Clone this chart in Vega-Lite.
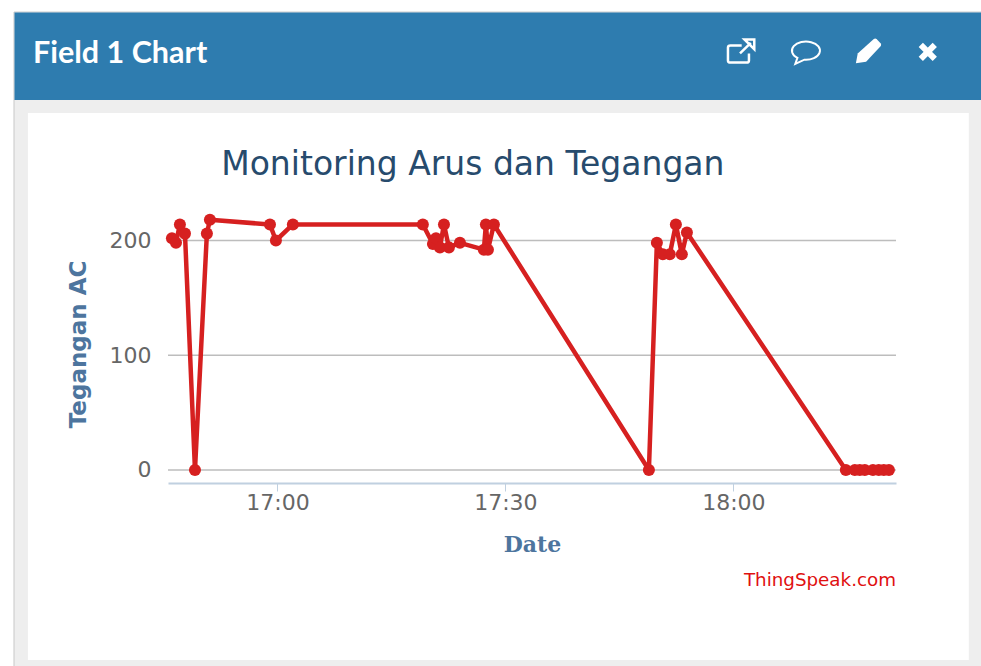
{
"$schema":"https://vega.github.io/schema/vega-lite/v6.json",
"width":728,"height":270,
"autosize":{"type":"none"},
"padding":{"left":168,"top":213,"right":85,"bottom":183},
"background":"#ffffff",
"view":{"stroke":null},
"data":{"values":[
{"t":"2024-01-01T16:46:07Z","v":202},{"t":"2024-01-01T16:46:39Z","v":198},{"t":"2024-01-01T16:47:10Z","v":214},{"t":"2024-01-01T16:47:50Z","v":206},{"t":"2024-01-01T16:49:09Z","v":0},{"t":"2024-01-01T16:50:43Z","v":206},{"t":"2024-01-01T16:51:07Z","v":218},{"t":"2024-01-01T16:59:01Z","v":214},{"t":"2024-01-01T16:59:48Z","v":200},{"t":"2024-01-01T17:02:02Z","v":214},{"t":"2024-01-01T17:19:08Z","v":214},{"t":"2024-01-01T17:20:28Z","v":197},{"t":"2024-01-01T17:20:52Z","v":202},{"t":"2024-01-01T17:21:23Z","v":194},{"t":"2024-01-01T17:21:55Z","v":214},{"t":"2024-01-01T17:22:34Z","v":194},{"t":"2024-01-01T17:24:01Z","v":198},{"t":"2024-01-01T17:27:10Z","v":192},{"t":"2024-01-01T17:27:26Z","v":214},{"t":"2024-01-01T17:27:42Z","v":192},{"t":"2024-01-01T17:28:29Z","v":214},{"t":"2024-01-01T17:48:53Z","v":0},{"t":"2024-01-01T17:49:56Z","v":198},{"t":"2024-01-01T17:50:43Z","v":188},{"t":"2024-01-01T17:51:38Z","v":188},{"t":"2024-01-01T17:52:26Z","v":214},{"t":"2024-01-01T17:53:13Z","v":188},{"t":"2024-01-01T17:53:53Z","v":207},{"t":"2024-01-01T18:14:48Z","v":0},{"t":"2024-01-01T18:15:59Z","v":0},{"t":"2024-01-01T18:16:38Z","v":0},{"t":"2024-01-01T18:17:18Z","v":0},{"t":"2024-01-01T18:18:22Z","v":0},{"t":"2024-01-01T18:19:08Z","v":0},{"t":"2024-01-01T18:19:48Z","v":0},{"t":"2024-01-01T18:20:28Z","v":0}
]},
"layer":[
{"data":{"values":[{"part":"gutter"}]},
 "mark":{"type":"rect","fill":"#eeeeee","stroke":"#c8c8c8","strokeWidth":1},
 "encoding":{
  "x":{"datum":{"utc":true,"year":2024,"month":1,"date":1,"hours":16,"minutes":25,"seconds":20},"type":"temporal"},
  "x2":{"datum":{"utc":true,"year":2024,"month":1,"date":1,"hours":18,"minutes":35,"seconds":0}},
  "y":{"datum":399.1,"type":"quantitative"},
  "y2":{"datum":-180}}},
{"data":{"values":[{"part":"header"}]},
 "mark":{"type":"rect","fill":"#2e7caf"},
 "encoding":{
  "x":{"datum":{"utc":true,"year":2024,"month":1,"date":1,"hours":16,"minutes":25,"seconds":24},"type":"temporal"},
  "x2":{"datum":{"utc":true,"year":2024,"month":1,"date":1,"hours":18,"minutes":35,"seconds":0}},
  "y":{"datum":398.6,"type":"quantitative"},
  "y2":{"datum":322.4}}},
{"data":{"values":[{"part":"card"}]},
 "mark":{"type":"rect","fill":"#ffffff"},
 "encoding":{
  "x":{"datum":{"utc":true,"year":2024,"month":1,"date":1,"hours":16,"minutes":27,"seconds":10},"type":"temporal"},
  "x2":{"datum":{"utc":true,"year":2024,"month":1,"date":1,"hours":18,"minutes":30,"seconds":59}},
  "y":{"datum":311.1,"type":"quantitative"},
  "y2":{"datum":-165.6}}},
{"data":{"values":[{"grid":0},{"grid":100},{"grid":200}]},
 "mark":{"type":"rule","color":"#bdbdbd","strokeWidth":1.5},
 "encoding":{"y":{"field":"grid","type":"quantitative"}}},
{"mark":{"type":"line","color":"#d62020","strokeWidth":4.5,"strokeJoin":"round"},
 "encoding":{
  "x":{"field":"t","type":"temporal","scale":{"type":"utc","domain":[{"utc":true,"year":2024,"month":1,"date":1,"hours":16,"minutes":45,"seconds":36},{"utc":true,"year":2024,"month":1,"date":1,"hours":18,"minutes":21,"seconds":24}]},
   "axis":{"title":"Date","format":"%H:%M","values":[{"utc":true,"year":2024,"month":1,"date":1,"hours":17,"minutes":0},{"utc":true,"year":2024,"month":1,"date":1,"hours":17,"minutes":30},{"utc":true,"year":2024,"month":1,"date":1,"hours":18,"minutes":0}],"grid":false,"zindex":1,"domainColor":"#c0d0e0","domainWidth":2,"tickColor":"#c0d0e0","tickWidth":1,"tickSize":8,"labelFont":"DejaVu Sans","labelFontSize":22,"labelColor":"#666666","labelPadding":1,"labelFlush":false,"labelOverlap":false,"titleFont":"DejaVu Serif","titleFontSize":22,"titleFontWeight":"bold","titleColor":"#4d759e","titlePadding":21}},
  "y":{"field":"v","type":"quantitative","scale":{"domain":[-11.33,223.97],"nice":false,"zero":false},
   "axis":{"title":"Tegangan AC","values":[0,100,200],"grid":false,"domain":false,"ticks":false,"zindex":1,"labelFont":"DejaVu Sans","labelFontSize":22,"labelColor":"#666666","labelPadding":17,"titleFont":"DejaVu Sans","titleFontSize":23,"titleFontWeight":"bold","titleColor":"#4d759e","titlePadding":19,"titleY":131}}}},
{"mark":{"type":"circle","color":"#d62020","opacity":1,"size":145},
 "encoding":{"x":{"field":"t","type":"temporal"},"y":{"field":"v","type":"quantitative"}}},
{"data":{"values":[{"label":"Monitoring Arus dan Tegangan"}]},
 "mark":{"type":"text","align":"center","baseline":"middle","font":"DejaVu Sans","fontSize":33,"color":"#274b6d"},
 "encoding":{"x":{"datum":{"utc":true,"year":2024,"month":1,"date":1,"hours":17,"minutes":25,"seconds":43},"type":"temporal"},"y":{"datum":265.8,"type":"quantitative"},"text":{"field":"label"}}},
{"data":{"values":[{"label":"Field 1 Chart"}]},
 "mark":{"type":"text","align":"left","baseline":"middle","font":"Lato","fontSize":30.5,"fontWeight":"bold","color":"#ffffff"},
 "encoding":{"x":{"datum":{"utc":true,"year":2024,"month":1,"date":1,"hours":16,"minutes":27,"seconds":50},"type":"temporal"},"y":{"datum":362.2,"type":"quantitative"},"text":{"field":"label"}}},
{"data":{"values":[{"label":"ThingSpeak.com"}]},
 "mark":{"type":"text","align":"right","baseline":"middle","font":"DejaVu Sans","fontSize":18.3,"color":"#e01010"},
 "encoding":{"x":{"datum":{"utc":true,"year":2024,"month":1,"date":1,"hours":18,"minutes":21,"seconds":24},"type":"temporal"},"y":{"datum":-96.5,"type":"quantitative"},"text":{"field":"label"}}},
{"data":{"values":[{"icon":"link"}]},
 "mark":{"type":"point","size":784,"shape":"M0.57,0.1 V0.6 Q0.57,0.75 0.4,0.75 H-0.75 Q-0.93,0.75 -0.93,0.6 V-0.3 Q-0.93,-0.46 -0.75,-0.46 H0.05 M-0.07,0.1 L0.7,-0.65 M0.25,-0.9 H0.95 V-0.2 Z","filled":false,"stroke":"#ffffff","strokeWidth":2.5,"opacity":1},
 "encoding":{"x":{"datum":{"utc":true,"year":2024,"month":1,"date":1,"hours":18,"minutes":1,"seconds":0},"type":"temporal"},"y":{"datum":364.3,"type":"quantitative"}}},
{"data":{"values":[{"icon":"comment"}]},
 "mark":{"type":"point","size":784,"shape":"M-0.6,0.42 A1,0.65 0 1 1 -0.1,0.55 L-0.75,0.85 Z","filled":false,"stroke":"#ffffff","strokeWidth":2,"opacity":1},
 "encoding":{"x":{"datum":{"utc":true,"year":2024,"month":1,"date":1,"hours":18,"minutes":9,"seconds":32},"type":"temporal"},"y":{"datum":364.3,"type":"quantitative"}}},
{"data":{"values":[{"icon":"pencil"}]},
 "mark":{"type":"point","size":784,"shape":"M-0.93,0.8 L-0.8,0.1 L0.35,-0.93 Q0.45,-1 0.55,-0.93 L0.85,-0.6 Q0.9,-0.5 0.85,-0.42 L-0.2,0.7 Z","filled":true,"fill":"#ffffff","opacity":1},
 "encoding":{"x":{"datum":{"utc":true,"year":2024,"month":1,"date":1,"hours":18,"minutes":17,"seconds":50},"type":"temporal"},"y":{"datum":364.3,"type":"quantitative"}}},
{"data":{"values":[{"icon":"close"}]},
 "mark":{"type":"point","size":784,"shape":"M-0.5,-0.5 L0.5,0.5 M-0.5,0.5 L0.5,-0.5","filled":false,"stroke":"#ffffff","strokeWidth":6,"opacity":1},
 "encoding":{"x":{"datum":{"utc":true,"year":2024,"month":1,"date":1,"hours":18,"minutes":25,"seconds":35},"type":"temporal"},"y":{"datum":364.3,"type":"quantitative"}}}
]
}
